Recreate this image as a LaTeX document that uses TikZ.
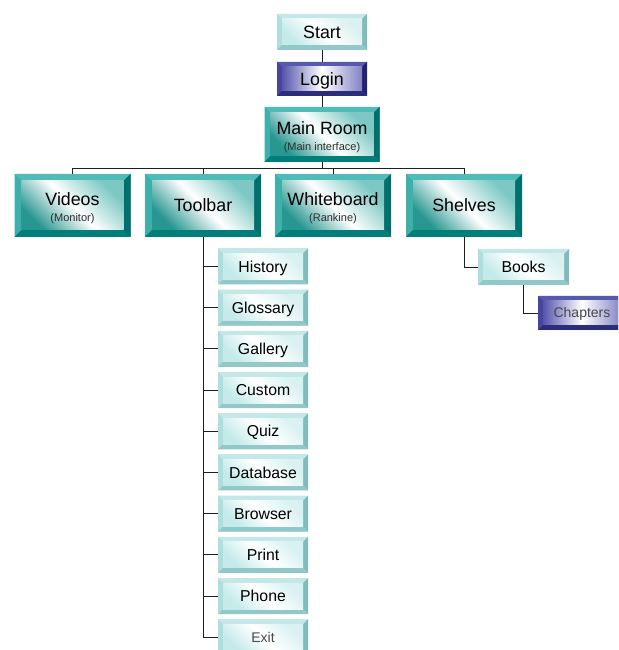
\documentclass[tikz,border=0pt]{standalone}
\usepackage{fontspec}
\setmainfont{Liberation Sans}
\usetikzlibrary{calc}
\definecolor{tealT}{RGB}{80,188,184}
\definecolor{tealL}{RGB}{62,176,172}
\definecolor{tealR}{RGB}{0,112,108}
\definecolor{tealB}{RGB}{0,126,121}
\definecolor{tealD}{RGB}{40,150,145}
\definecolor{tealU}{RGB}{125,200,196}
\definecolor{lightT}{RGB}{196,232,232}
\definecolor{lightL}{RGB}{176,222,222}
\definecolor{lightR}{RGB}{128,188,188}
\definecolor{lightB}{RGB}{146,200,200}
\definecolor{lightD}{RGB}{196,234,234}
\definecolor{lightU}{RGB}{218,241,241}
\definecolor{blueT}{RGB}{88,88,172}
\definecolor{blueL}{RGB}{70,70,160}
\definecolor{blueR}{RGB}{34,34,110}
\definecolor{blueB}{RGB}{44,44,124}
\definecolor{blueIL}{RGB}{85,85,172}
\definecolor{blueIR}{RGB}{130,130,195}
\definecolor{subgrey}{RGB}{45,45,45}
\definecolor{fainttext}{RGB}{72,72,72}
\definecolor{linec}{RGB}{30,30,30}
\newcommand\bevelart[6]{%
  \path (path picture bounding box.north west) coordinate (pA)
        (path picture bounding box.north east) coordinate (pB)
        (path picture bounding box.south east) coordinate (pC)
        (path picture bounding box.south west) coordinate (pD);
  \path ($(pA)+(#6,-#6)$) coordinate (qA) ($(pB)+(-#6,-#6)$) coordinate (qB)
        ($(pC)+(-#6,#6)$) coordinate (qC) ($(pD)+(#6,#6)$) coordinate (qD);
  \fill[#1] (pA)--(pB)--(qB)--(qA)--cycle;
  \fill[#2] (pA)--(qA)--(qD)--(pD)--cycle;
  \fill[#3] (pB)--(pC)--(qC)--(qB)--cycle;
  \fill[#4] (pD)--(qD)--(qC)--(pC)--cycle;
  \shade[#5] (qA) rectangle (qC);
}
\newcommand\subfnt{\fontsize{11}{16}\selectfont\color{subgrey}}
\tikzset{
  bx/.style={rectangle, inner sep=0pt, outer sep=0pt, text=black},
  tealshade/.style={bottom color=tealD, top color=tealU, middle color=white, shading angle=-45},
  lightshade/.style={bottom color=lightD, top color=lightU, middle color=white, shading angle=-45},
  blueshade/.style={left color=blueIL, right color=blueIR, middle color=white},
  tealbox/.style={bx, fill=tealT, path picture={\bevelart{tealT}{tealL}{tealR}{tealB}{tealshade}{#1}}},
  tealbox/.default=7pt,
  lightbox/.style={bx, fill=lightT, path picture={\bevelart{lightT}{lightL}{lightR}{lightB}{lightshade}{#1}}},
  lightbox/.default=5pt,
  bluebox/.style={bx, fill=blueT, path picture={\bevelart{blueT}{blueL}{blueR}{blueB}{blueshade}{#1}}},
  bluebox/.default=5pt,
  bigtxt/.style={font=\fontsize{17.8}{16}\selectfont, text height=12.75pt, text depth=0pt},
  twotxt/.style={font=\fontsize{17.8}{16}\selectfont, align=center, text height=35pt, text depth=2.3pt},
  smalltxt/.style={font=\fontsize{15.8}{16}\selectfont, text height=11.3pt, text depth=0pt},
  faint/.style={font=\fontsize{14}{16}\selectfont, text height=10pt, text depth=0pt, text=fainttext},
  topbox/.style={tealbox, minimum width=116pt, minimum height=63pt},
  item/.style={lightbox, smalltxt, minimum width=90pt, minimum height=36pt},
  conn/.style={draw=linec, line width=0.9pt},
}
\begin{document}
\begin{tikzpicture}[x=1pt,y=1pt]
\useasboundingbox (0,0) rectangle (618,650);
\clip (0,0) rectangle (618,650);
\fill[white] (0,0) rectangle (618,650);
% nodes
\node[lightbox, bigtxt, minimum width=90pt, minimum height=36pt] (start) at (322,618) {Start};
\node[bluebox, bigtxt, minimum width=90pt, minimum height=34pt] (login) at (322,571) {Login};
\node[tealbox=6pt, twotxt, minimum width=115pt, minimum height=55pt] (main) at (322,515.5) {Main Room\\{\subfnt (Main interface)}};
\node[topbox, twotxt] (videos) at (72.5,444.5) {Videos\\{\subfnt (Monitor)}};
\node[topbox, bigtxt] (toolbar) at (203,444.5) {Toolbar};
\node[topbox, twotxt] (whiteboard) at (333,444.5) {Whiteboard\\{\subfnt (Rankine)}};
\node[topbox, bigtxt] (shelves) at (464,444.5) {Shelves};
\node[lightbox, smalltxt, minimum width=91pt, minimum height=36pt] (books) at (523.5,383) {Books};
\node[bluebox, faint, minimum width=88pt, minimum height=34pt] (chapters) at (582,337) {Chapters};
\node[item] (history)  at (263,383.5) {History};
\node[item] (glossary) at (263,342.3) {Glossary};
\node[item] (gallery)  at (263,301.1) {Gallery};
\node[item] (custom)   at (263,259.9) {Custom};
\node[item] (quiz)     at (263,218.7) {Quiz};
\node[item] (database) at (263,177.5) {Database};
\node[item] (browser)  at (263,136.3) {Browser};
\node[item] (print)    at (263,95.1)  {Print};
\node[item] (phone)    at (263,53.9)  {Phone};
\node[item, faint] (exit) at (263,12.7) {Exit};
% connectors
\coordinate (bus) at (322,482);
\draw[conn] (start) -- (login);
\draw[conn] (login) -- (main);
\draw[conn] (main.south) -- (bus);
\draw[conn] (videos.north) |- (bus);
\draw[conn] (toolbar.north) |- (bus);
\draw[conn] (whiteboard.north) |- (bus);
\draw[conn] (shelves.north) |- (bus);
\draw[conn] (toolbar.south) |- (exit.west);
\foreach \n in {history,glossary,gallery,custom,quiz,database,browser,print,phone}
  \draw[conn] (\n.west) -- (\n.west -| toolbar.south);
\draw[conn] (shelves.south) |- (books.west);
\draw[conn] (books.south) |- (chapters.west);
\end{tikzpicture}
\end{document}
